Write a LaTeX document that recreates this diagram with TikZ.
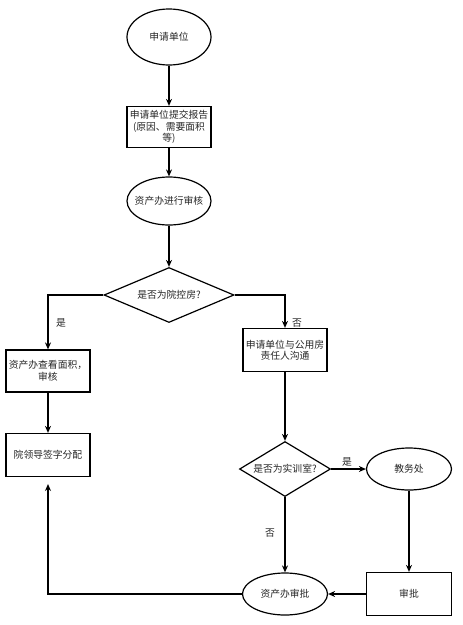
\documentclass[tikz,border=0pt]{standalone}
\usepackage{fontspec}
\setmainfont{Noto Sans CJK SC}
\usetikzlibrary{shapes.geometric,arrows.meta}
\begin{document}
\begin{tikzpicture}[x=1pt,y=-1pt,
  base/.style={draw=black,line width=1.2pt,font=\fontsize{9.8pt}{11.5pt}\selectfont,align=center,inner sep=0.5pt,text=black!85},
  oval/.style={base,ellipse,inner xsep=-6pt,minimum width=84pt,minimum height=#1},
  box/.style={base,rectangle,minimum width=84pt,minimum height=#1},
  lbl/.style={font=\fontsize{9.8pt}{11.5pt}\selectfont,text=black!85},
  arr/.style={line width=1.2pt,-{Stealth[length=7pt,width=6pt]}}]
\useasboundingbox (0,0) rectangle (463,625);
\node[oval=56pt] (a) at (169,37) {申请单位};
\node[box=41pt] (b) at (169,127) {申请单位提交报告\\(原因、需要面积\\等)};
\node[oval=48pt] (c) at (169,201) {资产办进行审核};
\node[base,diamond,minimum width=130pt,minimum height=55pt,inner sep=0pt] (d) at (169,295) {};
\node[lbl] at (d) {是否为院控房?};
\node[box=42pt] (e) at (48,371) {资产办查看面积，\\审核};
\node[box=43pt] (f) at (285,350) {申请单位与公用房\\责任人沟通};
\node[box=43pt] (g) at (48,455) {院领导签字分配};
\node[base,diamond,minimum width=91pt,minimum height=55pt,inner sep=0pt] (h) at (285,469) {};
\node[lbl] at (h) {是否为实训室?};
\node[oval=42pt,minimum width=85pt] (i) at (409,469) {教务处};
\node[box=43pt,minimum width=85pt] (j) at (409,594) {审批};
\node[oval=42pt,minimum width=85pt] (k) at (285,594) {资产办审批};
\coordinate (gb) at (48,484);
\draw[arr] (a) -- (b);
\draw[arr] (b) -- (c);
\draw[arr] (c) -- (d);
\draw[arr] (d.west) -| (e.north);
\draw[arr] (d.east) -| (f.north);
\draw[arr] (e) -- (g);
\draw[arr] (f) -- (h);
\draw[arr] (h) -- (i);
\draw[arr] (h) -- (k);
\draw[arr] (i) -- (j);
\draw[arr] (j) -- (k);
\draw[arr] (k.west) -| (gb);
\node[lbl] at (61,323) {是};
\node[lbl] at (297,323) {否};
\node[lbl] at (347,462) {是};
\node[lbl] at (270,533) {否};
\end{tikzpicture}
\end{document}
